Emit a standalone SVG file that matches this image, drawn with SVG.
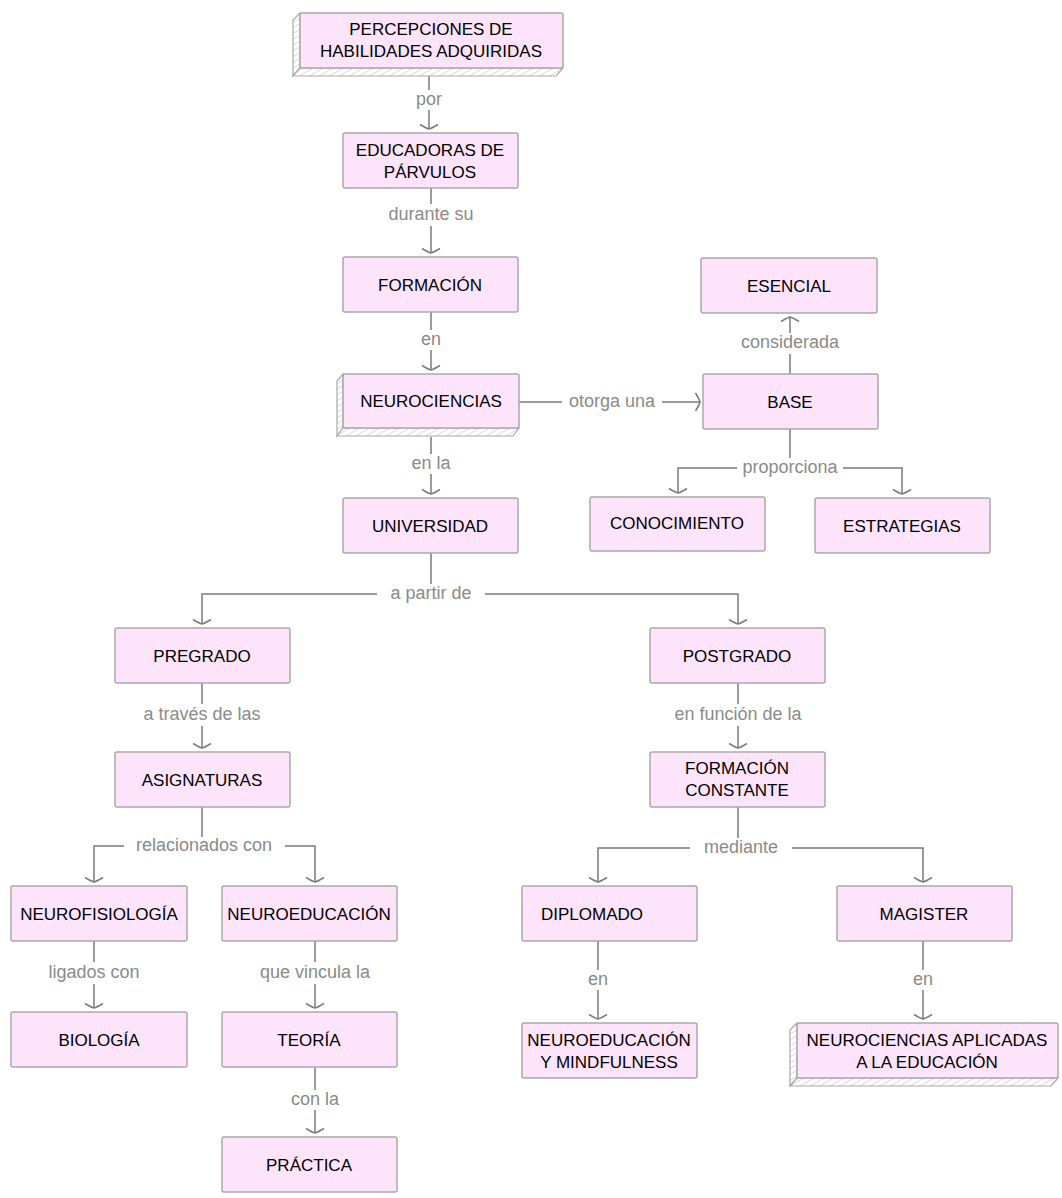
<svg xmlns="http://www.w3.org/2000/svg" width="1062" height="1198" viewBox="0 0 1062 1198">
<style>
.box{fill:#fde4fb;stroke:#a9a9a9;stroke-width:1.5}
.side{fill:url(#hatch);stroke:#a9a9a9;stroke-width:1.2}
.nt{font-family:"Liberation Sans",Arial,sans-serif;font-size:17px;fill:#000000;text-anchor:middle}
.lb{font-family:"Liberation Sans",Arial,sans-serif;font-size:18px;fill:#8a8a8a;text-anchor:middle}
.ln{fill:none;stroke:#7a7a7a;stroke-width:1.5}
.ar{marker-end:url(#arr)}
</style>
<defs>
<pattern id="hatch" patternUnits="userSpaceOnUse" width="5" height="5" patternTransform="rotate(60)">
<rect width="5" height="5" fill="#ffffff"/>
<line x1="0" y1="0" x2="0" y2="5" stroke="#c4c4c4" stroke-width="1.2"/>
</pattern>
<marker id="arr" markerUnits="userSpaceOnUse" markerWidth="24" markerHeight="24" viewBox="-12 -12 24 24" refX="0" refY="0" orient="auto" overflow="visible">
<path d="M-4.5,-9 Q-0.5,-2.5 0,0 Q-0.5,2.5 -4.5,9" fill="none" stroke="#7a7a7a" stroke-width="1.5"/>
</marker>
</defs>
<rect width="1062" height="1198" fill="#ffffff"/>

<g id="connectors">
<line class="ln" x1="429" y1="76" x2="429" y2="90"/>
<line class="ln ar" x1="429" y1="110" x2="429" y2="129"/>
<text class="lb" x="429" y="105">por</text>

<line class="ln" x1="431" y1="188" x2="431" y2="204"/>
<line class="ln ar" x1="431" y1="226" x2="431" y2="253"/>
<text class="lb" x="431" y="220">durante su</text>

<line class="ln" x1="431" y1="312" x2="431" y2="330"/>
<line class="ln ar" x1="431" y1="350" x2="431" y2="370"/>
<text class="lb" x="431" y="345">en</text>

<line class="ln" x1="431" y1="437" x2="431" y2="454"/>
<line class="ln ar" x1="431" y1="474" x2="431" y2="494"/>
<text class="lb" x="431" y="469">en la</text>

<line class="ln" x1="519" y1="402" x2="562" y2="402"/>
<line class="ln ar" x1="662" y1="402" x2="700" y2="402"/>
<text class="lb" x="612" y="407">otorga una</text>

<line class="ln" x1="790" y1="374" x2="790" y2="354"/>
<line class="ln ar" x1="790" y1="333" x2="790" y2="317"/>
<text class="lb" x="790" y="348">considerada</text>

<line class="ln" x1="790" y1="429" x2="790" y2="458"/>
<polyline class="ln ar" points="737,468 678,468 678,493"/>
<polyline class="ln ar" points="843,468 902,468 902,494"/>
<text class="lb" x="790" y="473">proporciona</text>

<line class="ln" x1="431" y1="553" x2="431" y2="584"/>
<polyline class="ln ar" points="377,594 202,594 202,624"/>
<polyline class="ln ar" points="485,594 738,594 738,624"/>
<text class="lb" x="431" y="599">a partir de</text>

<line class="ln" x1="202" y1="683" x2="202" y2="704"/>
<line class="ln ar" x1="202" y1="726" x2="202" y2="748"/>
<text class="lb" x="202" y="720">a través de las</text>

<line class="ln" x1="738" y1="683" x2="738" y2="704"/>
<line class="ln ar" x1="738" y1="726" x2="738" y2="748"/>
<text class="lb" x="738" y="720">en función de la</text>

<line class="ln" x1="202" y1="807" x2="202" y2="837"/>
<polyline class="ln ar" points="124,846 94,846 94,882"/>
<polyline class="ln ar" points="285,846 315,846 315,882"/>
<text class="lb" x="204" y="851">relacionados con</text>

<line class="ln" x1="738" y1="807" x2="738" y2="838"/>
<polyline class="ln ar" points="690,848 598,848 598,882"/>
<polyline class="ln ar" points="792,848 923,848 923,882"/>
<text class="lb" x="741" y="853">mediante</text>

<line class="ln" x1="94" y1="941" x2="94" y2="962"/>
<line class="ln ar" x1="94" y1="984" x2="94" y2="1008"/>
<text class="lb" x="94" y="978">ligados con</text>

<line class="ln" x1="315" y1="941" x2="315" y2="962"/>
<line class="ln ar" x1="315" y1="984" x2="315" y2="1008"/>
<text class="lb" x="315" y="978">que vincula la</text>

<line class="ln" x1="598" y1="941" x2="598" y2="970"/>
<line class="ln ar" x1="598" y1="990" x2="598" y2="1019"/>
<text class="lb" x="598" y="985">en</text>

<line class="ln" x1="923" y1="941" x2="923" y2="970"/>
<line class="ln ar" x1="923" y1="990" x2="923" y2="1019"/>
<text class="lb" x="923" y="985">en</text>

<line class="ln" x1="315" y1="1067" x2="315" y2="1090"/>
<line class="ln ar" x1="315" y1="1110" x2="315" y2="1133"/>
<text class="lb" x="315" y="1105">con la</text>
</g>

<g id="n-percepciones">
<polygon class="side" points="300,13 293,20 293,76 300,68"/>
<polygon class="side" points="300,68 293,76 556,76 563,68"/>
<rect class="box" x="300" y="13" width="263" height="55" rx="2"/>
<text class="nt" x="431" y="35">PERCEPCIONES DE</text>
<text class="nt" x="431" y="57">HABILIDADES ADQUIRIDAS</text>
</g>
<g id="n-educadoras">
<rect class="box" x="343" y="133" width="175" height="55" rx="2"/>
<text class="nt" x="430" y="156">EDUCADORAS DE</text>
<text class="nt" x="430" y="178">PÁRVULOS</text>
</g>
<g id="n-formacion">
<rect class="box" x="343" y="257" width="175" height="55" rx="2"/>
<text class="nt" x="430" y="291">FORMACIÓN</text>
</g>
<g id="n-neurociencias">
<polygon class="side" points="343,374 337,381 337,436 343,428"/>
<polygon class="side" points="343,428 337,436 513,436 519,428"/>
<rect class="box" x="343" y="374" width="176" height="54" rx="2"/>
<text class="nt" x="431" y="407">NEUROCIENCIAS</text>
</g>
<g id="n-universidad">
<rect class="box" x="343" y="498" width="175" height="55" rx="2"/>
<text class="nt" x="430" y="532">UNIVERSIDAD</text>
</g>
<g id="n-esencial">
<rect class="box" x="701" y="258" width="176" height="55" rx="2"/>
<text class="nt" x="789" y="292">ESENCIAL</text>
</g>
<g id="n-base">
<rect class="box" x="703" y="374" width="175" height="55" rx="2"/>
<text class="nt" x="790" y="408">BASE</text>
</g>
<g id="n-conocimiento">
<rect class="box" x="590" y="497" width="175" height="54" rx="2"/>
<text class="nt" x="677" y="529">CONOCIMIENTO</text>
</g>
<g id="n-estrategias">
<rect class="box" x="815" y="498" width="175" height="55" rx="2"/>
<text class="nt" x="902" y="532">ESTRATEGIAS</text>
</g>
<g id="n-pregrado">
<rect class="box" x="115" y="628" width="175" height="55" rx="2"/>
<text class="nt" x="202" y="662">PREGRADO</text>
</g>
<g id="n-postgrado">
<rect class="box" x="650" y="628" width="175" height="55" rx="2"/>
<text class="nt" x="737" y="662">POSTGRADO</text>
</g>
<g id="n-asignaturas">
<rect class="box" x="115" y="752" width="175" height="55" rx="2"/>
<text class="nt" x="202" y="786">ASIGNATURAS</text>
</g>
<g id="n-formacion-constante">
<rect class="box" x="650" y="752" width="175" height="55" rx="2"/>
<text class="nt" x="737" y="774">FORMACIÓN</text>
<text class="nt" x="737" y="796">CONSTANTE</text>
</g>
<g id="n-neurofisiologia">
<rect class="box" x="11" y="886" width="176" height="55" rx="2"/>
<text class="nt" x="99" y="920">NEUROFISIOLOGÍA</text>
</g>
<g id="n-neuroeducacion">
<rect class="box" x="222" y="886" width="175" height="55" rx="2"/>
<text class="nt" x="309" y="920">NEUROEDUCACIÓN</text>
</g>
<g id="n-diplomado">
<rect class="box" x="522" y="886" width="175" height="55" rx="2"/>
<text class="nt" x="592" y="920">DIPLOMADO</text>
</g>
<g id="n-magister">
<rect class="box" x="837" y="886" width="175" height="55" rx="2"/>
<text class="nt" x="924" y="920">MAGISTER</text>
</g>
<g id="n-biologia">
<rect class="box" x="11" y="1012" width="176" height="55" rx="2"/>
<text class="nt" x="99" y="1046">BIOLOGÍA</text>
</g>
<g id="n-teoria">
<rect class="box" x="222" y="1012" width="175" height="55" rx="2"/>
<text class="nt" x="309" y="1046">TEORÍA</text>
</g>
<g id="n-neuroeducacion-mindfulness">
<rect class="box" x="522" y="1023" width="175" height="55" rx="2"/>
<text class="nt" x="609" y="1046">NEUROEDUCACIÓN</text>
<text class="nt" x="609" y="1068">Y MINDFULNESS</text>
</g>
<g id="n-neurociencias-aplicadas">
<polygon class="side" points="797,1023 790,1030 790,1086 797,1078"/>
<polygon class="side" points="797,1078 790,1086 1051,1086 1058,1078"/>
<rect class="box" x="797" y="1023" width="261" height="55" rx="2"/>
<text class="nt" x="927" y="1046">NEUROCIENCIAS APLICADAS</text>
<text class="nt" x="927" y="1068">A LA EDUCACIÓN</text>
</g>
<g id="n-practica">
<rect class="box" x="222" y="1137" width="175" height="55" rx="2"/>
<text class="nt" x="309" y="1171">PRÁCTICA</text>
</g>
</svg>
